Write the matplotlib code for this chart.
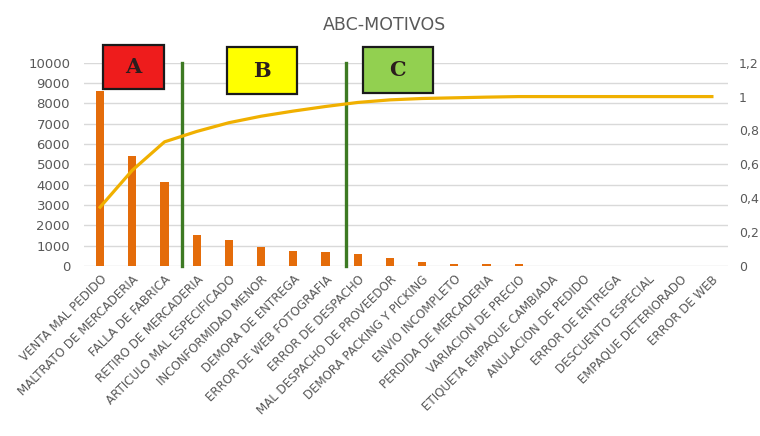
import numpy as np
import matplotlib.pyplot as plt
from matplotlib.patches import Rectangle
from matplotlib.ticker import FuncFormatter

# motivos de devolucion y cantidad de casos
motivos = ['VENTA MAL PEDIDO', 'MALTRATO DE MERCADERIA', 'FALLA DE FABRICA',
           'RETIRO DE MERCADERIA', 'ARTICULO MAL ESPECIFICADO', 'INCONFORMIDAD MENOR',
           'DEMORA DE ENTREGA', 'ERROR DE WEB FOTOGRAFIA', 'ERROR DE DESPACHO',
           'MAL DESPACHO DE PROVEEDOR', 'DEMORA PACKING Y PICKING', 'ENVIO INCOMPLETO',
           'PERDIDA DE MERCADERIA', 'VARIACION DE PRECIO', 'ETIQUETA EMPAQUE CAMBIADA',
           'ANULACION DE PEDIDO', 'ERROR DE ENTREGA', 'DESCUENTO ESPECIAL',
           'EMPAQUE DETERIORADO', 'ERROR DE WEB']
casos = [8600, 5400, 4150, 1520, 1280, 950, 750, 670, 590, 380,
         200, 100, 100, 80, 0, 0, 0, 0, 0, 0]

# cortes entre zonas A|B y B|C
cortes = [2.55, 7.65]
zonas = ['A', 'B', 'C']
zona_colores = ['#ee1c1c', '#ffff00', '#92d050']

acum = np.cumsum(casos) / np.sum(casos)
x = np.arange(len(motivos))

fig = plt.figure(figsize=(7.6, 4.36), dpi=100)
ax = fig.add_axes([84/760, 1 - 266/436, 644/760, (266 - 62.7)/436])
ax2 = ax.twinx()

gris = '#595959'
ax.bar(x, casos, width=0.25, color='#e46c0a', zorder=2)
ax.set_ylim(0, 10000)
ax.set_yticks(np.arange(0, 10001, 1000))
ax.set_xlim(-0.5, len(motivos) - 0.5)
ax.grid(axis='y', color='#d9d9d9', lw=1, zorder=0)
ax.set_xticks(x)
ax.set_xticklabels(motivos, rotation=45, ha='right', rotation_mode='anchor',
                   fontsize=8.6, color=gris)
ax.tick_params(axis='x', length=0, pad=5)
ax.tick_params(axis='y', length=0, labelsize=9.5, labelcolor=gris, pad=10)

ax2.plot(x, acum, color='#f0b000', lw=2.3, zorder=3)
ax2.set_ylim(0, 1.2)
ax2.set_yticks(np.arange(0, 1.21, 0.2))
ax2.yaxis.set_major_formatter(FuncFormatter(
    lambda v, p: ('%g' % round(v, 1)).replace('.', ',')))
ax2.tick_params(axis='y', length=0, labelsize=9, labelcolor=gris, pad=8)

for a in (ax, ax2):
    for s in a.spines.values():
        s.set_visible(False)

# lineas verticales de corte
for c in cortes:
    ax.plot([c, c], [0, 10000], color='#3d7a23', lw=2.4, zorder=4, clip_on=False)

# recuadros de cada zona (en pixeles de la figura)
cajas = [(102.7, 44.7, 61.3, 44.3), (226.7, 47.3, 70, 46.7), (362.7, 47.3, 70, 46)]
for (px, py, w, h), z, col in zip(cajas, zonas, zona_colores):
    r = Rectangle((px/760, 1 - (py + h)/436), w/760, h/436, transform=fig.transFigure,
                  facecolor=col, edgecolor='#1a1a1a', lw=1.6, zorder=5)
    fig.patches.append(r)
    fig.text((px + w/2)/760, 1 - (py + h/2)/436, z, ha='center', va='center',
             fontsize=15, fontweight='bold', family='DejaVu Serif', color='#2b1d1d',
             zorder=6)

fig.text(384/760, 1 - 25/436, 'ABC-MOTIVOS', ha='center', va='center',
         fontsize=12.5, color=gris)

fig.savefig('out.png', dpi=100, facecolor='white')
